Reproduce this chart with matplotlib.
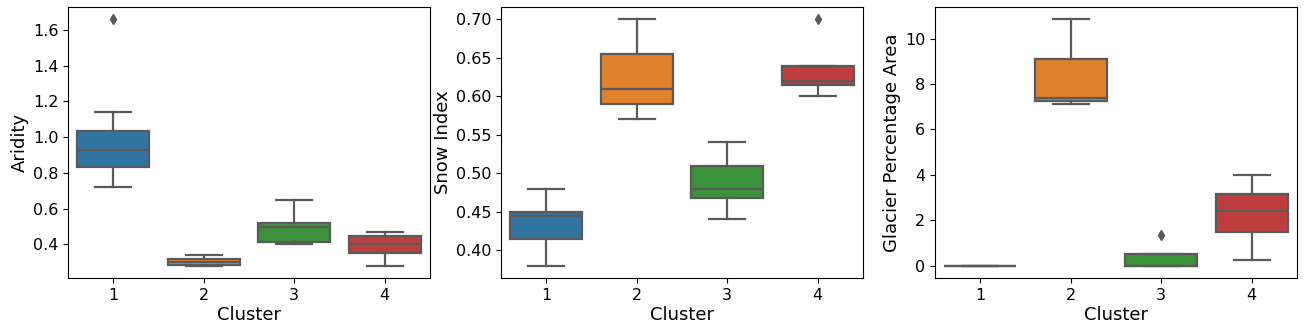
import matplotlib
matplotlib.use("Agg")
import matplotlib.pyplot as plt

clusters = ["1", "2", "3", "4"]
box_colors = ["#3274a1", "#e1812c", "#3a923a", "#c03d3e"]
line_gray = "#5a5a5a"

# box stats per cluster: whisker low, q1, median, q3, whisker high, outliers
aridity_lo = [0.72, 0.28, 0.40, 0.28]
aridity_q1 = [0.83, 0.285, 0.41, 0.35]
aridity_med = [0.93, 0.30, 0.495, 0.40]
aridity_q3 = [1.035, 0.315, 0.52, 0.445]
aridity_hi = [1.14, 0.34, 0.65, 0.47]
aridity_out = [[1.66], [], [], []]
aridity_ticks = [0.4, 0.6, 0.8, 1.0, 1.2, 1.4, 1.6]

snow_lo = [0.38, 0.57, 0.44, 0.60]
snow_q1 = [0.415, 0.59, 0.468, 0.615]
snow_med = [0.445, 0.61, 0.48, 0.62]
snow_q3 = [0.45, 0.655, 0.51, 0.64]
snow_hi = [0.48, 0.70, 0.54, 0.64]
snow_out = [[], [], [], [0.70]]
snow_ticks = [0.40, 0.45, 0.50, 0.55, 0.60, 0.65, 0.70]

glacier_lo = [0.0, 7.1, 0.0, 0.25]
glacier_q1 = [0.0, 7.25, 0.0, 1.5]
glacier_med = [0.0, 7.4, 0.0, 2.4]
glacier_q3 = [0.0, 9.1, 0.5, 3.15]
glacier_hi = [0.0, 10.85, 0.5, 4.0]
glacier_out = [[], [], [1.35], []]
glacier_ticks = [0, 2, 4, 6, 8, 10]

panels = [
    ("Aridity", aridity_lo, aridity_q1, aridity_med, aridity_q3, aridity_hi, aridity_out, aridity_ticks, "{:.1f}"),
    ("Snow Index", snow_lo, snow_q1, snow_med, snow_q3, snow_hi, snow_out, snow_ticks, "{:.2f}"),
    ("Glacier Percentage Area", glacier_lo, glacier_q1, glacier_med, glacier_q3, glacier_hi, glacier_out, glacier_ticks, "{:d}"),
]

fig = plt.figure(figsize=(13.08, 3.28), dpi=100)
lefts = [68, 501, 935]
W, H = 1308.0, 328.0

for left, (label, lo, q1, med, q3, hi, out, ticks, fmt) in zip(lefts, panels):
    ax = fig.add_axes([left / W, 50 / H, 362 / W, 271 / H])
    stats = []
    for i in range(len(clusters)):
        stats.append(dict(whislo=lo[i], q1=q1[i], med=med[i], q3=q3[i],
                          whishi=hi[i], fliers=out[i], label=clusters[i]))
    bp = ax.bxp(stats, positions=range(len(clusters)), widths=0.8,
                patch_artist=True, showfliers=True,
                boxprops=dict(edgecolor=line_gray, linewidth=1.6),
                whiskerprops=dict(color=line_gray, linewidth=1.6),
                capprops=dict(color=line_gray, linewidth=1.6),
                medianprops=dict(color=line_gray, linewidth=1.6),
                flierprops=dict(marker="d", markerfacecolor=line_gray,
                                markeredgecolor=line_gray, markersize=5))
    for patch, c in zip(bp["boxes"], box_colors):
        patch.set_facecolor(c)
    for cap in bp["caps"]:
        x = cap.get_xdata()
        mid = (x[0] + x[1]) / 2
        cap.set_xdata([mid - 0.2, mid + 0.2])
    ax.set_xlim(-0.5, 3.5)
    ax.set_xticks(range(len(clusters)))
    ax.set_xticklabels(clusters, fontsize=11.5)
    ax.set_yticks(ticks)
    ax.set_yticklabels([fmt.format(t) for t in ticks], fontsize=11.5)
    ax.set_xlabel("Cluster", fontsize=13, labelpad=2)
    ax.set_ylabel(label, fontsize=13, labelpad=3)

fig.savefig("out.png")
